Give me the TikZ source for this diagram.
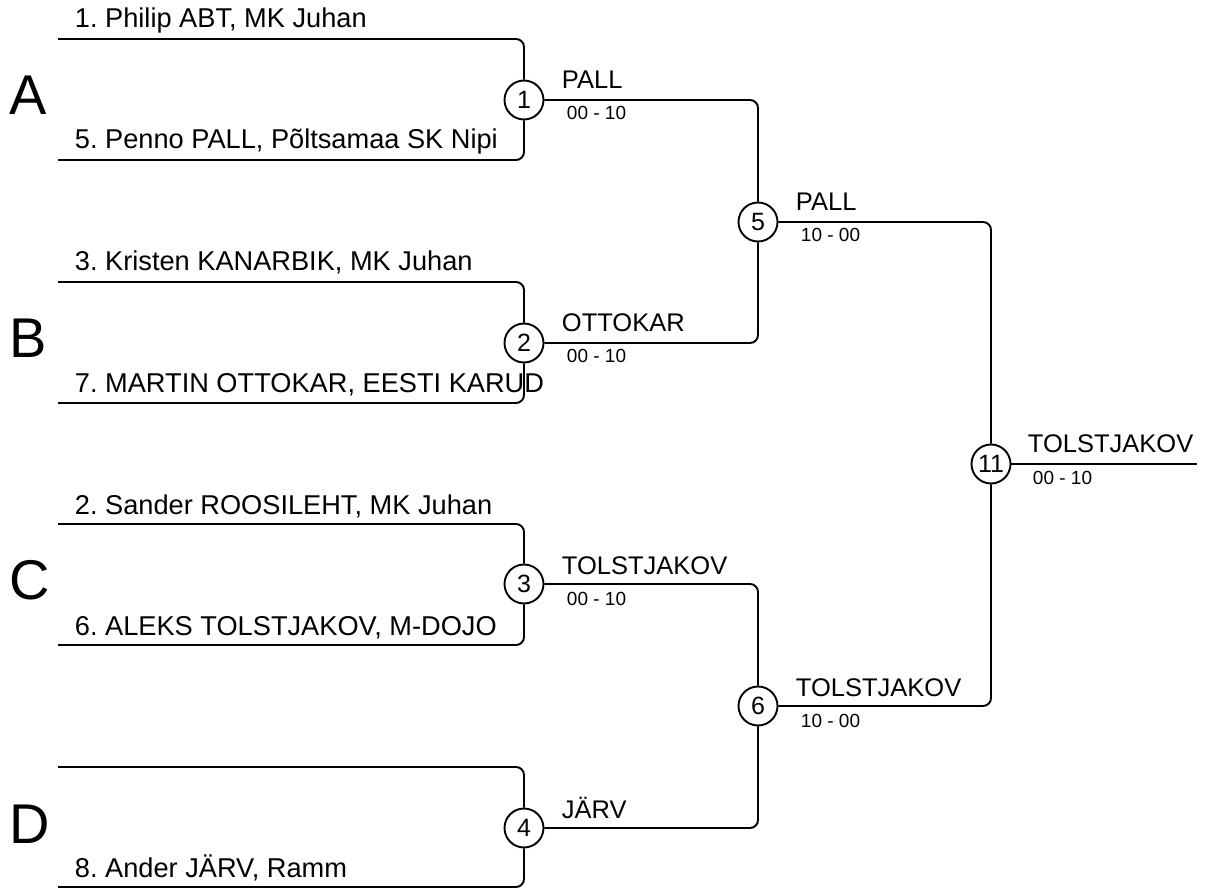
\documentclass[tikz,border=0pt]{standalone}
\usepackage{fontspec}
\setmainfont{Liberation Sans}
\begin{document}
\frenchspacing
\begin{tikzpicture}[x=1pt,y=-1pt,
  line width=1.9pt,
  conn/.style={draw,rounded corners=8pt},
  match/.style={circle,draw,fill=white,minimum size=39pt,inner sep=0pt,font=\fontsize{25}{27}\selectfont},
  player/.style={anchor=base west,inner sep=0pt,font=\fontsize{27.2}{29}\selectfont},
  winner/.style={anchor=base west,inner sep=0pt,font=\fontsize{25.5}{28}\selectfont},
  score/.style={anchor=base west,inner sep=0pt,font=\fontsize{19}{21}\selectfont},
  group/.style={anchor=base west,inner sep=0pt,font=\fontsize{56}{60}\selectfont}]
\useasboundingbox (0,0) rectangle (1205,890);
% group letters
\node[group] (gA) at (9,115) {A};
\node[group] (gB) at (9,358) {B};
\node[group] (gC) at (9,599) {C};
\node[group] (gD) at (9,843) {D};
% player line ends
\coordinate (p1) at (58,39);
\coordinate (p5) at (58,160);
\coordinate (p3) at (58,282);
\coordinate (p7) at (58,403);
\coordinate (p2) at (58,524);
\coordinate (p6) at (58,645);
\coordinate (pe) at (58,767);
\coordinate (p8) at (58,887);
\coordinate (fin) at (1197,464);
% match circles
\node[match] (m1) at (524,100) {1};
\node[match] (m2) at (524,343) {2};
\node[match] (m3) at (524,584) {3};
\node[match] (m4) at (524,828) {4};
\node[match] (m5) at (758,222) {5};
\node[match] (m6) at (758,706) {6};
\node[match] (m11) at (991,464) {11};
% connectors
\draw[conn] (p1) -| (m1.north);
\draw[conn] (p5) -| (m1.south);
\draw[conn] (p3) -| (m2.north);
\draw[conn] (p7) -| (m2.south);
\draw[conn] (p2) -| (m3.north);
\draw[conn] (p6) -| (m3.south);
\draw[conn] (pe) -| (m4.north);
\draw[conn] (p8) -| (m4.south);
\draw[conn] (m1.east) -| (m5.north);
\draw[conn] (m2.east) -| (m5.south);
\draw[conn] (m3.east) -| (m6.north);
\draw[conn] (m4.east) -| (m6.south);
\draw[conn] (m5.east) -| (m11.north);
\draw[conn] (m6.east) -| (m11.south);
\draw[conn] (m11.east) -- (fin);
% player names
\node[player] (n1) at (74,28) {1. Philip ABT, MK Juhan};
\node[player] (n5) at (74,149) {5. Penno PALL, Põltsamaa SK Nipi};
\node[player] (n3) at (74,271) {3. Kristen KANARBIK, MK Juhan};
\node[player] (n7) at (74,393) {7. MARTIN OTTOKAR, EESTI KARUD};
\node[player] (n2) at (74,514) {2. Sander ROOSILEHT, MK Juhan};
\node[player] (n6) at (74,635) {6. ALEKS TOLSTJAKOV, M-DOJO};
\node[player] (n8) at (74,877) {8. Ander JÄRV, Ramm};
% winners and scores
\node[winner] (w1) at (561,89) {PALL};
\node[score] (s1) at (566,120) {00 - 10};
\node[winner] (w2) at (561,332) {OTTOKAR};
\node[score] (s2) at (566,363) {00 - 10};
\node[winner] (w3) at (561,574) {TOLSTJAKOV};
\node[score] (s3) at (566,605) {00 - 10};
\node[winner] (w4) at (561,818) {JÄRV};
\node[winner] (w5) at (795,211) {PALL};
\node[score] (s5) at (800,242) {10 - 00};
\node[winner] (w6) at (795,696) {TOLSTJAKOV};
\node[score] (s6) at (800,727) {10 - 00};
\node[winner] (w11) at (1027,453) {TOLSTJAKOV};
\node[score] (s11) at (1032,484) {00 - 10};
\end{tikzpicture}
\end{document}
